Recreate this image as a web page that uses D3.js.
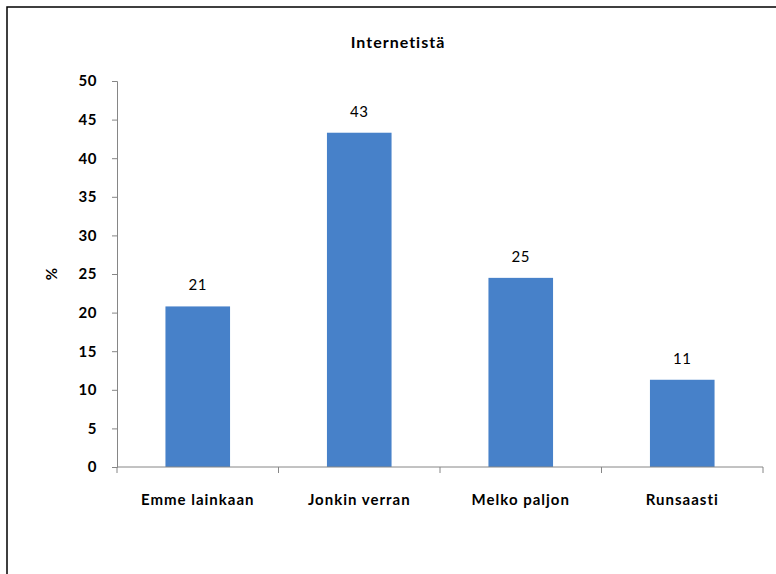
<!DOCTYPE html>
<html>
<head>
<meta charset="utf-8">
<script src="https://cdn.jsdelivr.net/npm/d3@7"></script>
<style>
  body { margin: 0; background: #fff; }
  text { font-family: Lato, "Open Sans", sans-serif; fill: #000; }
</style>
</head>
<body>
<script>
var categories = ["Emme lainkaan", "Jonkin verran", "Melko paljon", "Runsaasti"];
var values = [20.8, 43.3, 24.5, 11.3];
var valueLabels = ["21", "43", "25", "11"];
var yTicks = [0, 5, 10, 15, 20, 25, 30, 35, 40, 45, 50];

var w = 776;
var h = 574;
var plotLeft = 117, plotRight = 763, plotTop = 81, plotBottom = 467;

var svg = d3.select("body")
    .append("svg")
    .attr("width", w)
    .attr("height", h);

// outer frame
svg.append("rect")
    .attr("x", 7).attr("y", 7)
    .attr("width", w + 10).attr("height", h + 10)
    .attr("fill", "none")
    .attr("stroke", "#000")
    .attr("stroke-width", 1.5);

var xScale = d3.scaleBand()
    .domain(categories)
    .range([plotLeft, plotRight]);

var yScale = d3.scaleLinear()
    .domain([0, 50])
    .range([plotBottom, plotTop]);

var barW = xScale.bandwidth() * 0.4;

svg.selectAll("rect.bar")
    .data(values)
    .enter()
    .append("rect")
    .attr("class", "bar")
    .attr("x", function(d, i) { return xScale(categories[i]) + (xScale.bandwidth() - barW) / 2; })
    .attr("y", function(d) { return yScale(d); })
    .attr("width", barW)
    .attr("height", function(d) { return plotBottom - yScale(d); })
    .attr("fill", "#4781C9");

svg.selectAll("text.val")
    .data(values)
    .enter()
    .append("text")
    .attr("class", "val")
    .attr("text-anchor", "middle")
    .attr("x", function(d, i) { return xScale(categories[i]) + xScale.bandwidth() / 2; })
    .attr("y", function(d) { return yScale(d) - 16; })
    .attr("font-size", "15px")
    .attr("letter-spacing", "0.5px")
    .text(function(d, i) { return valueLabels[i]; });

// y axis
var yAxis = d3.axisLeft(yScale)
    .tickValues(yTicks)
    .tickSize(5)
    .tickPadding(15);

var gy = svg.append("g")
    .attr("transform", "translate(" + plotLeft + ",0)")
    .call(yAxis);
gy.selectAll("path, line").attr("stroke", "#868686");
gy.selectAll("text")
    .attr("font-size", "15px")
    .attr("font-weight", "bold")
    .attr("letter-spacing", "0.5px")
    .attr("font-family", "Lato, sans-serif");

// x axis with ticks at category boundaries
var gx = svg.append("g")
    .attr("transform", "translate(0," + plotBottom + ")");
gx.append("line")
    .attr("x1", plotLeft).attr("x2", plotRight)
    .attr("stroke", "#868686");
gx.selectAll("line.tick")
    .data(categories.concat(["end"]))
    .enter()
    .append("line")
    .attr("class", "tick")
    .attr("x1", function(d, i) { return i < categories.length ? xScale(d) : plotRight; })
    .attr("x2", function(d, i) { return i < categories.length ? xScale(d) : plotRight; })
    .attr("y1", 0).attr("y2", 6)
    .attr("stroke", "#868686");
gx.selectAll("text")
    .data(categories)
    .enter()
    .append("text")
    .attr("text-anchor", "middle")
    .attr("x", function(d) { return xScale(d) + xScale.bandwidth() / 2; })
    .attr("y", 38)
    .attr("font-size", "15px")
    .attr("font-weight", "bold")
    .attr("letter-spacing", "1px")
    .text(function(d) { return d; });

// title
svg.append("text")
    .attr("text-anchor", "middle")
    .attr("x", 398)
    .attr("y", 48)
    .attr("font-size", "16px")
    .attr("font-weight", "bold")
    .attr("letter-spacing", "1px")
    .text("Internetistä");

// y label
svg.append("text")
    .attr("text-anchor", "middle")
    .attr("transform", "rotate(-90)")
    .attr("x", -274)
    .attr("y", 57)
    .attr("font-size", "15px")
    .attr("font-weight", "bold")
    .text("%");
</script>
</body>
</html>
